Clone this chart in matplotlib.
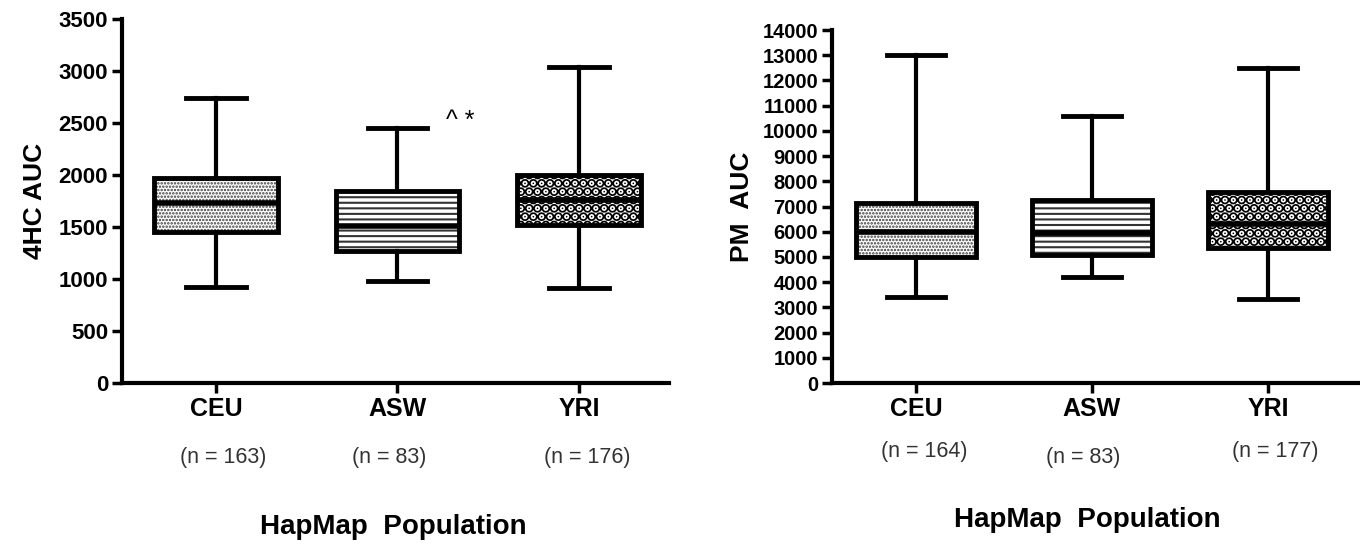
import matplotlib
matplotlib.use("Agg")
import matplotlib.pyplot as plt

plt.rcParams['font.family'] = ['Liberation Sans', 'DejaVu Sans']

categories = ["CEU", "ASW", "YRI"]

# Left panel: 4HC AUC
hc_low = [925, 980, 913]
hc_q1 = [1450, 1270, 1520]
hc_med = [1735, 1510, 1760]
hc_q3 = [1970, 1846, 2000]
hc_high = [2740, 2450, 3035]
hc_n = ["(n = 163)", "(n = 83)", "(n = 176)"]
hc_ticks = [0, 500, 1000, 1500, 2000, 2500, 3000, 3500]

# Right panel: PM AUC
pm_low = [3410, 4205, 3330]
pm_q1 = [5000, 5080, 5355]
pm_med = [5990, 5950, 6300]
pm_q3 = [7140, 7260, 7576]
pm_high = [13000, 10600, 12500]
pm_n = ["(n = 164)", "(n = 83)", "(n = 177)"]
pm_ticks = list(range(0, 14001, 1000))

hatches = [".....", "---", ".."]
hatch_lw = [1.2, 1.5, 5.0]
hatch_col = ["#3a3a3a", "#333333", "black"]

fig = plt.figure(figsize=(13.6, 5.46), dpi=100)
ax1 = fig.add_axes([122 / 1360, 0.2985, 547 / 1360, 0.6667])
ax2 = fig.add_axes([832 / 1360, 0.2985, 528 / 1360, 0.6465])


def draw(ax, low, q1, med, q3, high, width, capw):
    stats = []
    for i, c in enumerate(categories):
        stats.append(dict(label=c, whislo=low[i], q1=q1[i], med=med[i],
                          q3=q3[i], whishi=high[i], fliers=[]))
    pos = list(range(1, len(categories) + 1))
    bp = ax.bxp(stats, positions=pos, widths=width, capwidths=capw,
                patch_artist=True, showfliers=False,
                boxprops=dict(linewidth=3.5, edgecolor='black', facecolor='white'),
                medianprops=dict(linewidth=4, color='black'),
                whiskerprops=dict(linewidth=3, color='black'),
                capprops=dict(linewidth=3.5, color='black'))
    for i, b in enumerate(bp['boxes']):
        with plt.rc_context({'hatch.linewidth': hatch_lw[i], 'hatch.color': hatch_col[i]}):
            b.set_hatch(hatches[i])
            if hasattr(b, 'set_hatch_linewidth'):
                b.set_hatch_linewidth(hatch_lw[i])
        b.set_edgecolor('black')
        try:
            b._hatch_color = matplotlib.colors.to_rgba(hatch_col[i])
        except Exception:
            pass
    return bp


draw(ax1, hc_low, hc_q1, hc_med, hc_q3, hc_high, 0.68, 0.33)
draw(ax2, pm_low, pm_q1, pm_med, pm_q3, pm_high, 0.68, 0.33)

for ax in (ax1, ax2):
    for s in ('top', 'right'):
        ax.spines[s].set_visible(False)
    for s in ('left', 'bottom'):
        ax.spines[s].set_linewidth(3)
    ax.tick_params(axis='both', direction='out', length=7, width=2.5, pad=3)
    ax.set_xticks([1, 2, 3])

ax1.set_xlim(0.482, 3.496)
ax1.set_ylim(0, 3500)
ax1.set_yticks(hc_ticks)
ax1.set_yticklabels([str(t) for t in hc_ticks], fontsize=16, fontweight='bold')
ax1.set_xticklabels(categories, fontsize=18, fontweight='bold')
ax1.set_ylabel("4HC AUC", fontsize=19, fontweight='bold', labelpad=8)
ax1.text(2.27, 2520, "^ *", fontsize=18, ha='left', va='center')

ax2.set_xlim(0.523, 3.523)
ax2.set_ylim(0, 14000)
ax2.set_yticks(pm_ticks)
ax2.set_yticklabels([str(t) for t in pm_ticks], fontsize=14.5, fontweight='bold')
ax2.set_xticklabels(categories, fontsize=18, fontweight='bold')
ax2.set_ylabel("PM  AUC", fontsize=19, fontweight='bold', labelpad=6)

# n labels
left_n_x = [223, 389, 587]
for i, t in enumerate(hc_n):
    fig.text(left_n_x[i] / 1360, 1 - 457 / 546, t, fontsize=15.5, color='#333333',
             ha='center', va='center')
right_n_x = [924, 1083, 1275]
right_n_y = [452, 457, 452]
for i, t in enumerate(pm_n):
    fig.text(right_n_x[i] / 1360, 1 - right_n_y[i] / 546, t, fontsize=15.5, color='#333333',
             ha='center', va='center')

fig.text(393 / 1360, 1 - 527 / 546, "HapMap  Population", fontsize=20,
         fontweight='bold', ha='center', va='center')
fig.text(1087 / 1360, 1 - 520 / 546, "HapMap  Population", fontsize=20,
         fontweight='bold', ha='center', va='center')

fig.savefig("out.png", dpi=100)
